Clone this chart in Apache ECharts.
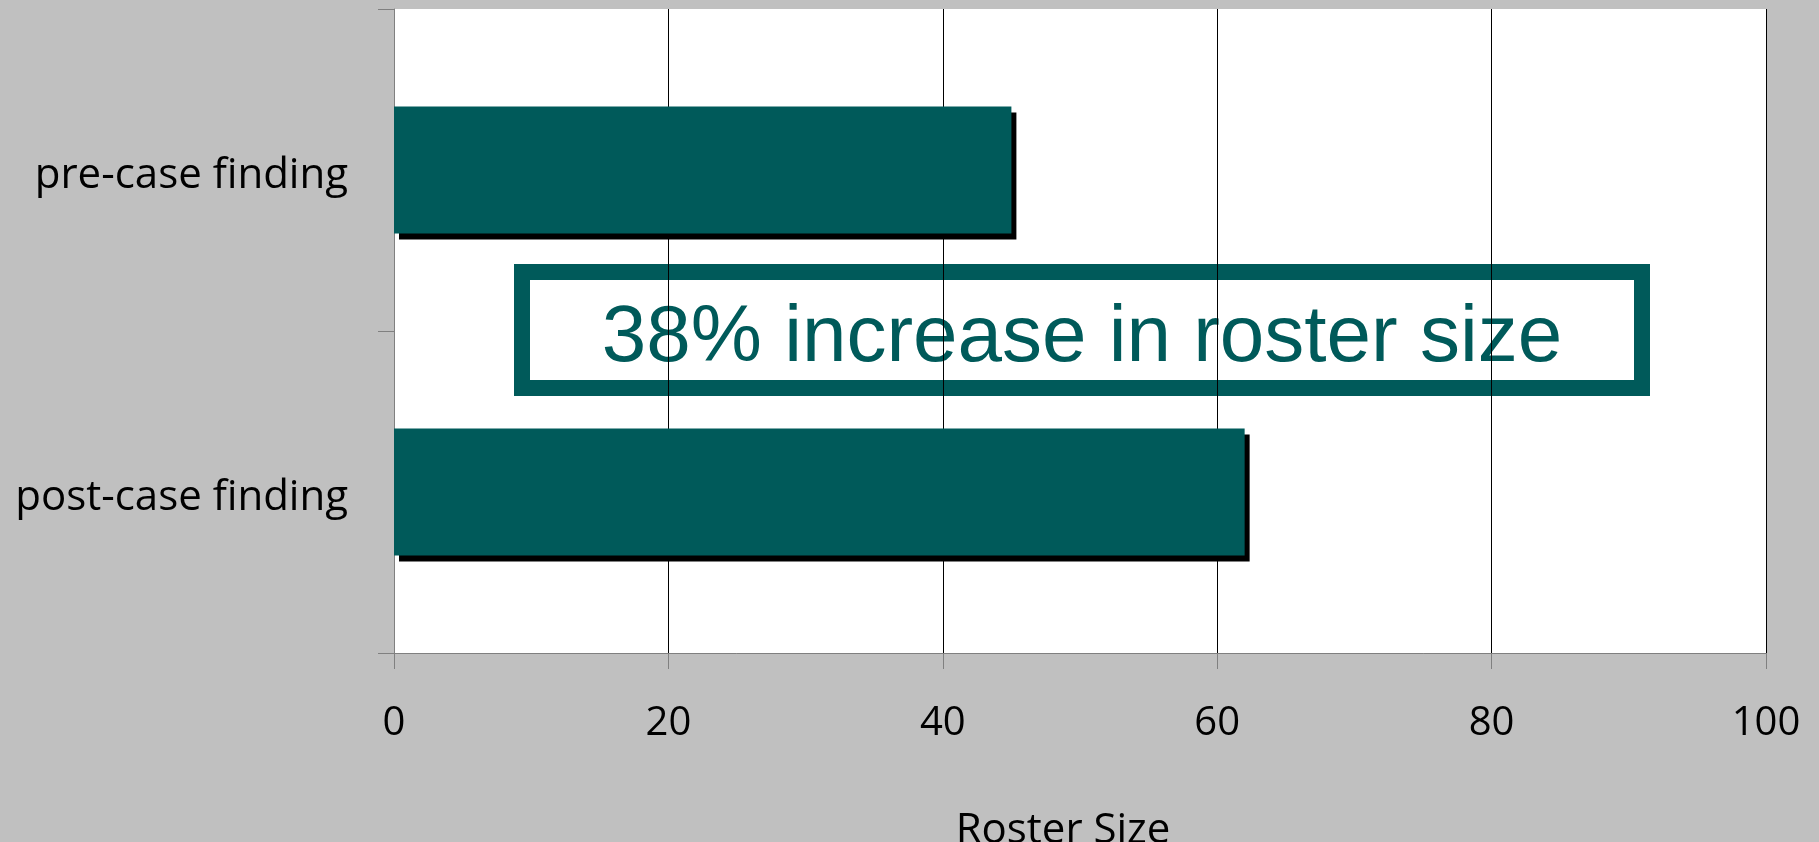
<!DOCTYPE html>
<html>
<head>
<meta charset="utf-8">
<style>
html,body{margin:0;padding:0;background:#c0c0c0;}
#chart{width:1819px;height:842px;}
</style>
<script src="https://cdn.jsdelivr.net/npm/echarts@6/dist/echarts.min.js"></script>
</head>
<body>
<div id="chart"></div>
<script>
var categories = ['pre-case finding', 'post-case finding'];
var rosterSize = [45, 62];
var xTicks = [0, 20, 40, 60, 80, 100];
var annotation = '38% increase in roster size';
var axisTitle = 'Roster Size';

var chart = echarts.init(document.getElementById('chart'), null, {renderer: 'canvas'});
var teal = '#005a5a';
chart.setOption({
  backgroundColor: '#c0c0c0',
  animation: false,
  grid: {left: 394, right: 53, top: 9, bottom: 189, show: true, backgroundColor: '#ffffff', borderWidth: 0, containLabel: false, outerBoundsMode: 'none'},
  xAxis: {
    type: 'value',
    min: xTicks[0], max: xTicks[xTicks.length - 1], interval: xTicks[1] - xTicks[0],
    name: axisTitle,
    nameLocation: 'middle',
    nameGap: 157,
    nameTextStyle: {fontFamily: 'Open Sans', fontSize: 42, color: '#000', padding: [0, 34, 0, 0]},
    axisLine: {show: true, lineStyle: {color: '#808080', width: 1}},
    axisTick: {show: true, length: 16, lineStyle: {color: '#808080'}},
    axisLabel: {margin: 51, fontFamily: 'Open Sans', fontSize: 40, color: '#000'},
    splitLine: {show: true, lineStyle: {color: '#000', width: 1}}
  },
  yAxis: {
    type: 'category',
    inverse: true,
    data: categories,
    axisLine: {show: true, lineStyle: {color: '#808080', width: 1}},
    axisTick: {show: true, length: 16, lineStyle: {color: '#808080'}},
    axisLabel: {
      margin: 46, fontFamily: 'Open Sans', fontSize: 42, color: '#000',
      formatter: '{a|{value}}',
      rich: {a: {fontFamily: 'Open Sans', fontSize: 42, color: '#000', padding: [12, 0, 0, 0]}}
    },
    splitLine: {show: false}
  },
  series: [{
    type: 'bar',
    data: rosterSize,
    barWidth: '39.5%',
    itemStyle: {color: teal, shadowColor: '#000', shadowBlur: 0, shadowOffsetX: 5, shadowOffsetY: 6}
  }],
  graphic: [{
    type: 'group',
    left: 514, top: 264,
    children: [{
      type: 'rect',
      shape: {x: 8, y: 8, width: 1120, height: 116},
      style: {fill: '#ffffff', stroke: teal, lineWidth: 16}
    }, {
      type: 'text',
      x: 568, y: 75,
      style: {text: annotation, fontFamily: 'Liberation Sans', fontSize: 80, fill: teal, align: 'center', verticalAlign: 'middle'}
    }]
  }]
});
</script>
</body>
</html>
